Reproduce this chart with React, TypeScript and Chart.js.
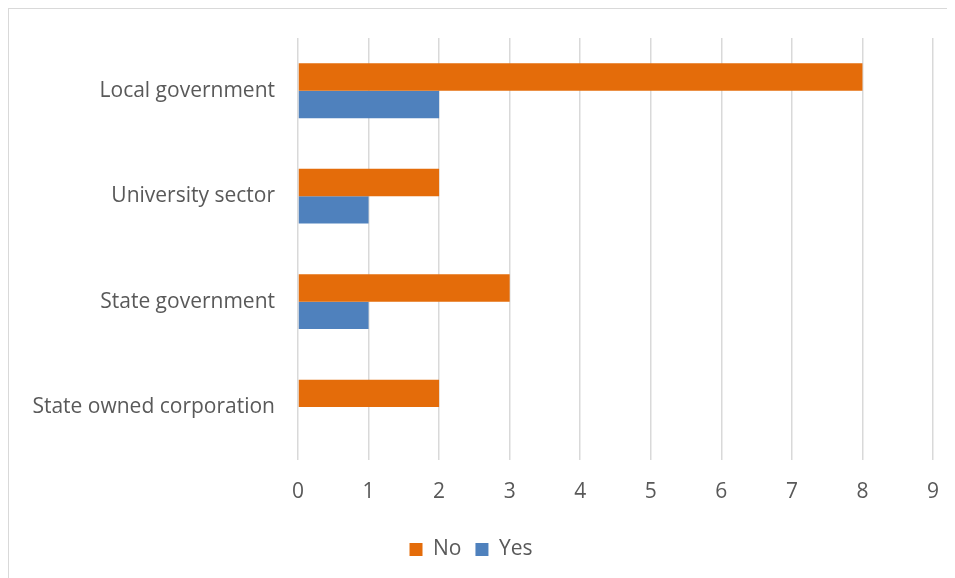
import React, { useEffect, useRef } from "react";
import { Chart, registerables } from "chart.js";

Chart.register(...registerables);

const categories = ["Local government", "University sector", "State government", "State owned corporation"];
const noValues = [8, 2, 3, 2];
const yesValues = [2, 1, 1, 0];
const xMin = 0;
const xMax = 9;

const FONT = "'Open Sans', sans-serif";
const TEXT = "#595959";

export default function App() {
  const ref = useRef<HTMLCanvasElement | null>(null);
  useEffect(() => {
    if (!ref.current) return;
    const chart = new Chart(ref.current, {
      type: "bar",
      data: {
        labels: categories,
        datasets: [
          { label: "No", data: noValues, backgroundColor: "#E46C0A", borderWidth: 0 },
          { label: "Yes", data: yesValues, backgroundColor: "#4F81BD", borderWidth: 0 },
        ],
      },
      options: {
        indexAxis: "y",
        animation: false,
        responsive: false,
        maintainAspectRatio: false,
        datasets: { bar: { barPercentage: 1, categoryPercentage: 0.52 } },
        layout: { padding: { top: 29, right: 22, left: 0, bottom: 8 } },
        plugins: {
          tooltip: { enabled: false },
          legend: {
            position: "bottom",
            labels: {
              color: TEXT,
              font: { family: FONT, size: 21 },
              boxWidth: 13,
              boxHeight: 13,
              padding: 14,
            },
          },
        },
        scales: {
          x: {
            min: xMin,
            max: xMax,
            ticks: { stepSize: 1, color: TEXT, font: { family: FONT, size: 21 }, padding: 20 },
            grid: { color: "#d9d9d9", lineWidth: 1.5, drawTicks: false },
            border: { display: false },
            afterFit: (s: any) => {
              s.paddingLeft = 0;
              s.paddingRight = 0;
            },
          },
          y: {
            ticks: { color: TEXT, font: { family: FONT, size: 21 }, padding: 23 },
            grid: { display: false, drawTicks: false },
            border: { display: false },
            afterFit: (s: any) => {
              s.width = 289;
              s.paddingTop = 0;
              s.paddingBottom = 0;
            },
          },
        },
      },
    });
    return () => chart.destroy();
  }, []);
  return (
    <div
      style={{
        width: 947,
        height: 570,
        borderLeft: "1px solid #d9d9d9",
        borderTop: "1px solid #d9d9d9",
        boxSizing: "border-box",
        background: "#fff",
      }}
    >
      <canvas ref={ref} width={946} height={569} style={{ display: "block" }} />
    </div>
  );
}
